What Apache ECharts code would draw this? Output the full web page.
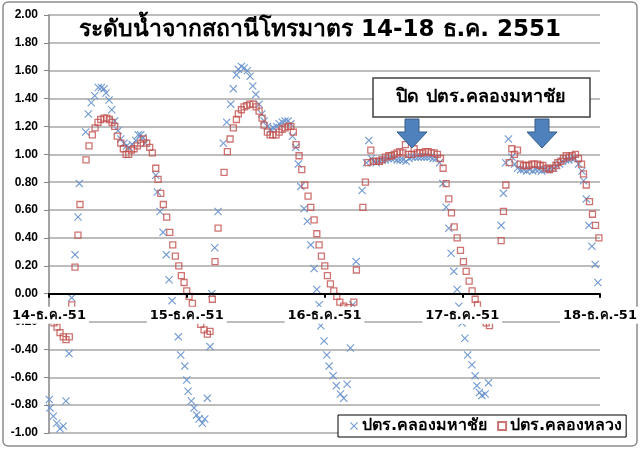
<!DOCTYPE html>
<html><head><meta charset="utf-8">
<script src="https://cdn.jsdelivr.net/npm/echarts@6/dist/echarts.min.js"></script>
<style>html,body{margin:0;padding:0;background:#fff}#c{width:640px;height:451px}</style>
</head><body><div id="c"></div>
<script>
// Hours since 14 Dec 2551 00:00, and water level (m)
const dateLabels = ['14-ธ.ค.-51','15-ธ.ค.-51','16-ธ.ค.-51','17-ธ.ค.-51','18-ธ.ค.-51'];
const yTicks = [-1.0,-0.8,-0.6,-0.4,-0.2,0,0.2,0.4,0.6,0.8,1.0,1.2,1.4,1.6,1.8,2.0];

const mahachaiHours = [0.05,0.17,0.75,1.34,1.92,2.49,2.96,3.49,3.96,4.53,5.05,5.28,6.40,6.85,7.37,7.97,8.59,9.12,9.59,9.93,10.46,10.93,11.45,12.03,12.50,13.07,13.5,13.94,14.52,15.11,15.56,15.98,16.38,16.73,18.6,18.88,19.35,19.87,20.44,20.92,21.44,22.0,22.54,22.95,23.65,24.0,24.23,
24.80,25.27,25.74,26.14,26.72,27.14,27.59,28.06,28.36,28.88,29.46,30.38,30.97,31.67,32.12,32.65,32.99,33.52,33.99,34.56,35.03,35.50,36.03,36.60,37.07,37.47,38.05,38.64,39.09,39.69,40.09,40.66,41.13,41.66,42.13,42.41,43.0,43.45,43.87,44.44,45.02,45.61,46.19,46.66,47.06,47.36,47.93,48.40,48.80,
49.50,50.07,50.77,51.36,51.94,52.51,52.93,53.51,54.55,55.30,55.72,56.17,56.56,56.99,57.52,58.04,58.56,59.09,59.61,60.13,60.66,61.18,61.70,62.22,62.75,63.27,63.79,64.31,64.84,65.36,65.88,66.41,66.93,67.45,68.03,68.62,69.19,69.66,70.06,70.53,71.11,71.41,71.98,72.45,
72.94,73.68,74.25,74.55,75.0,75.42,75.99,76.57,78.78,79.18,79.56,80.05,80.64,81.12,81.64,82.17,82.69,83.22,83.74,84.27,84.79,85.32,85.84,86.36,86.89,87.41,87.93,88.46,88.98,89.50,90.03,90.55,91.07,91.60,92.26,92.85,93.13,93.60,94.07,94.59,95.16,95.63];
const mahachaiLevel = [-0.76,-0.82,-0.88,-0.93,-0.97,-0.95,-0.77,-0.43,-0.03,0.28,0.55,0.79,1.16,1.29,1.37,1.42,1.48,1.48,1.47,1.44,1.39,1.32,1.24,1.17,1.11,1.08,1.06,1.05,1.07,1.10,1.14,1.14,1.12,1.08,0.85,0.73,0.59,0.44,0.28,0.10,-0.05,-0.18,-0.31,-0.44,-0.52,-0.62,-0.70,
-0.77,-0.82,-0.87,-0.90,-0.93,-0.90,-0.75,-0.38,0.00,0.33,0.59,1.08,1.23,1.36,1.47,1.57,1.61,1.63,1.62,1.60,1.56,1.49,1.43,1.36,1.29,1.24,1.20,1.18,1.19,1.20,1.22,1.23,1.24,1.24,1.22,1.13,1.05,0.93,0.77,0.61,0.52,0.35,0.18,0.03,-0.08,-0.23,-0.34,-0.44,-0.52,
-0.59,-0.66,-0.72,-0.75,-0.65,-0.39,-0.08,0.23,0.74,0.94,1.10,0.97,0.95,0.94,0.95,0.96,0.96,0.97,0.97,0.97,0.96,0.96,0.96,0.95,0.97,0.98,0.98,0.98,0.98,0.98,0.98,0.98,0.97,0.97,0.94,0.79,0.62,0.47,0.29,0.16,0.03,-0.09,-0.21,-0.32,
-0.44,-0.51,-0.59,-0.66,-0.71,-0.73,-0.72,-0.64,0.49,0.72,0.94,1.11,0.98,0.93,0.90,0.89,0.89,0.88,0.89,0.88,0.89,0.89,0.88,0.89,0.89,0.90,0.90,0.92,0.93,0.95,0.96,0.96,0.97,0.97,0.93,0.88,0.81,0.68,0.49,0.34,0.21,0.08];

const luangHours = [0.09,0.44,0.87,1.39,1.92,2.49,2.96,3.54,3.96,4.53,5.05,5.40,6.45,6.97,7.55,8.02,8.54,9.01,9.59,10.06,10.51,10.98,11.45,11.90,12.50,12.95,13.42,13.89,14.34,14.81,15.39,15.98,16.44,17.03,17.55,18.0,18.60,19.0,19.47,19.92,20.51,21.04,21.56,22.01,22.61,23.06,23.53,24.0,
24.40,24.98,25.45,25.97,26.44,27.02,27.59,28.06,28.46,28.93,29.46,30.50,31.08,31.55,32.12,32.65,32.99,33.52,33.99,34.46,34.98,35.56,36.08,36.60,37.12,37.47,38.05,38.52,38.99,39.56,40.09,40.61,41.13,41.66,42.13,42.58,43.05,43.57,44.04,44.57,45.14,45.61,46.19,46.66,47.06,47.46,48.05,48.51,
49.03,49.62,50.14,50.67,51.36,52.1,53.11,53.56,54.68,55.13,55.55,56.07,56.47,57.05,57.57,58.04,58.62,59.21,59.66,60.18,60.65,61.12,61.65,62.10,62.57,63.15,63.62,64.14,64.61,65.13,65.59,66.06,66.58,67.10,67.68,68.20,68.67,69.19,69.66,70.12,70.59,71.11,71.69,
72.21,72.68,73.20,73.72,74.25,74.65,75.12,75.64,76.17,76.74,78.78,79.18,79.60,80.18,80.64,81.10,81.62,82.09,82.67,83.14,83.61,84.13,84.53,85.11,85.58,86.05,86.62,87.20,87.79,88.31,88.66,89.18,89.64,90.11,90.63,91.15,91.73,92.25,92.78,93.13,93.60,94.17,94.69,95.22,95.81];
const luangLevel = [-0.15,-0.18,-0.21,-0.24,-0.28,-0.31,-0.33,-0.31,-0.08,0.19,0.42,0.64,0.96,1.06,1.14,1.19,1.23,1.25,1.26,1.26,1.25,1.23,1.20,1.13,1.08,1.04,1.00,1.00,1.03,1.04,1.06,1.08,1.11,1.08,1.05,1.01,0.90,0.82,0.72,0.64,0.55,0.44,0.35,0.27,0.20,0.13,0.08,0.02,
-0.02,-0.07,-0.12,-0.17,-0.22,-0.26,-0.29,-0.27,-0.04,0.23,0.47,0.87,1.02,1.11,1.19,1.25,1.29,1.32,1.34,1.35,1.36,1.36,1.34,1.31,1.26,1.21,1.16,1.14,1.14,1.14,1.16,1.18,1.19,1.20,1.20,1.16,1.07,0.99,0.89,0.78,0.70,0.62,0.53,0.43,0.35,0.27,0.20,0.13,
0.07,0.02,-0.02,-0.06,-0.09,-0.10,-0.06,0.17,0.62,0.80,0.94,1.03,0.95,0.95,0.95,0.96,0.98,0.99,0.99,1.00,1.01,1.02,1.01,1.07,1.00,1.00,1.04,1.01,1.01,1.01,1.02,1.02,1.01,1.01,1.00,0.97,0.90,0.79,0.68,0.58,0.48,0.40,0.31,
0.23,0.16,0.09,0.02,-0.04,-0.08,-0.13,-0.17,-0.21,-0.23,0.38,0.59,0.78,0.94,1.04,1.00,1.03,0.93,0.92,0.92,0.92,0.93,0.93,0.93,0.92,0.92,0.90,0.89,0.90,0.92,0.94,0.95,0.97,0.99,0.98,0.99,1.00,0.97,0.93,0.86,0.78,0.66,0.57,0.49,0.40];

const seriesNames = ['ปตร.คลองมหาชัย','ปตร.คลองหลวง'];
const titleText = 'ระดับน้ำจากสถานีโทรมาตร 14-18 ธ.ค. 2551';
const noteText = 'ปิด ปตร.คลองมหาชัย';

const FONT = "Tahoma, 'DejaVu Sans', 'Liberation Sans', sans-serif";
const crossPath = 'path://M0,1L1,0L5,4L9,0L10,1L6,5L10,9L9,10L5,6L1,10L0,9L4,5Z';

function zip(a,b){return a.map((v,i)=>[v,b[i]]);}

function arrow(cx){
  return {type:'polygon', z:20, shape:{points:[[cx-7,119],[cx+7,119],[cx+7,132],[cx+15,132],[cx,148],[cx-15,132],[cx-7,132]]},
    style:{fill:'#4F81BD', stroke:'#385D8A', lineWidth:1}};
}

const GRID_TOP = 15, GRID_BOTTOM = 18, H = 451;
const plotH = H - GRID_TOP - GRID_BOTTOM;
const zeroOffset = plotH * (0 - (-1)) / (2 - (-1));

const chart = echarts.init(document.getElementById('c'), null, {renderer:'canvas'});
chart.setOption({
  animation:false,
  backgroundColor:'#fff',
  title:{text:titleText, left:'center', top:14, textStyle:{fontFamily:FONT, fontSize:23, fontWeight:'bold', color:'#000'}},
  grid:{left:49, right:40, top:GRID_TOP, bottom:GRID_BOTTOM, containLabel:false, outerBoundsMode:'none'},
  xAxis:{type:'value', min:0, max:96, interval:24, z:10, offset:-zeroOffset,
    axisLine:{onZero:false, lineStyle:{color:'#000', width:2}},
    axisTick:{show:true, length:4, lineStyle:{color:'#000', width:2}},
    splitLine:{show:false},
    axisLabel:{margin:13, fontFamily:FONT, fontSize:13, fontWeight:'bold', color:'#000', backgroundColor:'#fff', padding:[2,3],
      formatter:function(v){return dateLabels[Math.round(v/24)];}}},
  yAxis:{type:'value', min:-1, max:2, interval:0.2,
    axisLine:{show:true, onZero:false, lineStyle:{color:'#868686', width:1.5}},
    axisTick:{show:true, length:5, lineStyle:{color:'#868686'}},
    splitLine:{show:true, lineStyle:{color:'#bdbdbd', width:2}},
    axisLabel:{margin:11, fontFamily:"'Liberation Sans', Arial, sans-serif", fontSize:12, fontWeight:'bold', color:'#000',
      formatter:function(v){return v.toFixed(2);}}},
  legend:{left:338, top:415, orient:'horizontal', padding:[3,4,3,12], itemGap:10, itemWidth:8, itemHeight:8,
    backgroundColor:'#fff', borderColor:'#000', borderWidth:1,
    textStyle:{fontFamily:FONT, fontSize:16, fontWeight:'bold', color:'#000', padding:[0,0,0,-1]},
    data:[{name:seriesNames[0], icon:crossPath},{name:seriesNames[1], icon:'rect'}]},
  series:[
    {name:seriesNames[0], type:'scatter', data:zip(mahachaiHours, mahachaiLevel), symbol:crossPath, symbolSize:8,
      itemStyle:{color:'#6590cc', opacity:0.9}, z:3},
    {name:seriesNames[1], type:'scatter', data:zip(luangHours, luangLevel), symbol:'rect', symbolSize:6,
      itemStyle:{color:'rgba(255,255,255,0)', borderColor:'#C0504D', borderWidth:1.3}, z:4}
  ],
  graphic:[
    {type:'rect', z:-1, silent:true, shape:{x:3, y:2, width:634, height:444, r:5}, style:{fill:'none', stroke:'#8c8c8c', lineWidth:1.5}},
    {type:'rect', z:20, shape:{x:373, y:78, width:217, height:39}, style:{fill:'#fff', stroke:'#404040', lineWidth:1.5}},
    {type:'text', z:21, style:{x:481, y:97, text:noteText, fontFamily:FONT, fontSize:18, fontWeight:'bold', fill:'#000', align:'center', verticalAlign:'middle'}},
    arrow(412), arrow(542)
  ]
});
</script></body></html>
